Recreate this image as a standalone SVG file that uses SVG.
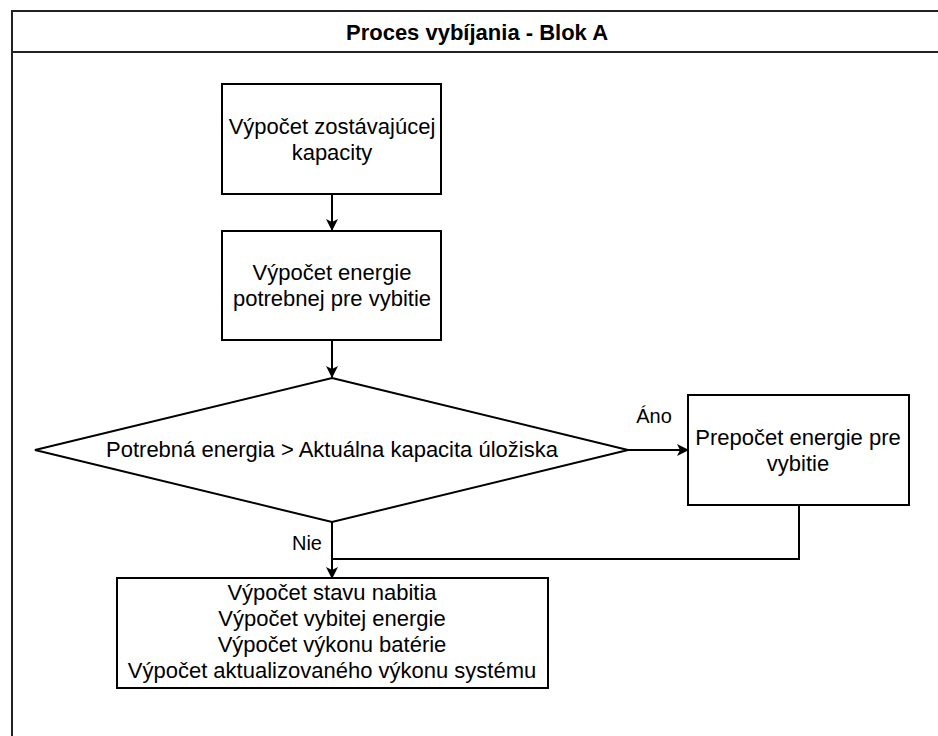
<svg xmlns="http://www.w3.org/2000/svg" width="938" height="736" viewBox="0 0 938 736">
<defs>
<marker id="arr" viewBox="0 0 12 12" refX="11" refY="6" markerWidth="12" markerHeight="12" markerUnits="userSpaceOnUse" orient="auto">
<path d="M0,0 L12,6 L0,12 L3,6 z" fill="#000"/>
</marker>
</defs>
<style>
.box{fill:#fff;stroke:#000;stroke-width:2}
.frame{fill:#fff;stroke:#222;stroke-width:2}
.t{font-family:"Liberation Sans",Arial,sans-serif;font-size:22px;fill:#000;text-anchor:middle}
.lbl{font-family:"Liberation Sans",Arial,sans-serif;font-size:20px;fill:#000;text-anchor:middle}
.title{font-family:"Liberation Sans",Arial,sans-serif;font-size:22px;font-weight:bold;fill:#000;text-anchor:middle}
.c{fill:none;stroke:#000;stroke-width:2}
</style>
<rect width="938" height="736" fill="#fff"/>
<g id="frame">
<rect class="frame" x="12" y="11" width="940" height="740"/>
<line x1="12" y1="52" x2="940" y2="52" stroke="#222" stroke-width="2"/>
<text class="title" x="477" y="40">Proces vybíjania - Blok A</text>
</g>
<g id="connectors">
<line class="c" x1="332" y1="194" x2="332" y2="230" marker-end="url(#arr)"/>
<line class="c" x1="332" y1="340" x2="332" y2="377" marker-end="url(#arr)"/>
<line class="c" x1="628" y1="450" x2="688" y2="450" marker-end="url(#arr)"/>
<line class="c" x1="332" y1="522" x2="332" y2="578" marker-end="url(#arr)"/>
<polyline class="c" points="799,505 799,559 332,559"/>
<text class="lbl" x="654" y="423">Áno</text>
<text class="lbl" x="307" y="550">Nie</text>
</g>
<g id="node-kapacita">
<rect class="box" x="222" y="84" width="219" height="110"/>
<text class="t" x="332" y="134">Výpočet zostávajúcej</text>
<text class="t" x="332" y="160">kapacity</text>
</g>
<g id="node-energia">
<rect class="box" x="222" y="231" width="219" height="109"/>
<text class="t" x="332" y="280">Výpočet energie</text>
<text class="t" x="332" y="306">potrebnej pre vybitie</text>
</g>
<g id="node-decision">
<polygon class="box" points="332,378 628,450 332,522 35,450"/>
<text class="t" x="332" y="457">Potrebná energia &gt; Aktuálna kapacita úložiska</text>
</g>
<g id="node-prepocet">
<rect class="box" x="688" y="395" width="221" height="110"/>
<text class="t" x="798" y="445">Prepočet energie pre</text>
<text class="t" x="798" y="471">vybitie</text>
</g>
<g id="node-vysledky">
<rect class="box" x="117" y="578" width="431" height="110"/>
<text class="t" x="332" y="600">Výpočet stavu nabitia</text>
<text class="t" x="332" y="626">Výpočet vybitej energie</text>
<text class="t" x="332" y="652">Výpočet výkonu batérie</text>
<text class="t" x="332" y="678">Výpočet aktualizovaného výkonu systému</text>
</g>
</svg>
